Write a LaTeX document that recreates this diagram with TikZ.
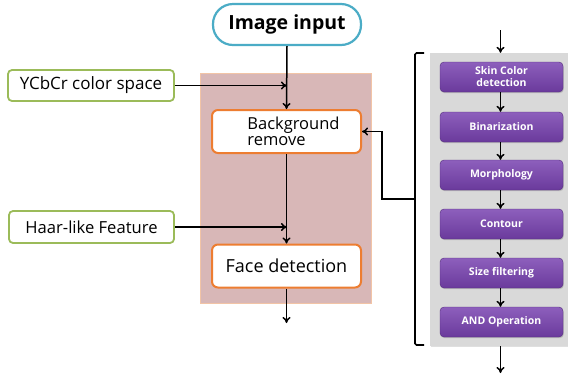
\documentclass[tikz,border=0pt]{standalone}
\usepackage{fontspec}
\setmainfont{Open Sans}
\usetikzlibrary{arrows.meta,shadows}
\definecolor{cyanb}{HTML}{4BACC6}
\definecolor{greenb}{HTML}{9BBB59}
\definecolor{orangeb}{HTML}{ED7D31}
\definecolor{pinkfill}{HTML}{D8B7B7}
\definecolor{pinkdraw}{HTML}{F2C4A6}
\definecolor{panelgray}{HTML}{D9D9D9}
\definecolor{purtop}{HTML}{8D5FBC}
\definecolor{purbot}{HTML}{6A3A9C}
\tikzset{
  conn/.style={line width=1.5pt, draw=black},
  inbox/.style={draw=greenb, line width=1.8pt, rounded corners=4pt, fill=white, inner sep=0pt},
  procbox/.style={draw=orangeb, line width=2pt, rounded corners=6pt, fill=white, minimum width=149pt, minimum height=43pt, inner sep=0pt},
  purbox/.style={rounded corners=4pt, top color=purtop, bottom color=purbot, draw=purbot!80!black, line width=0.4pt,
    minimum width=123pt, minimum height=30pt, inner sep=0pt, text=white, align=center,
    font=\fontsize{10.5}{12}\selectfont\bfseries, drop shadow={shadow xshift=0.8pt, shadow yshift=-1.2pt, opacity=0.35}}
}
\begin{document}
\begin{tikzpicture}[x=1pt,y=-1pt, >={To[length=6pt,width=8pt]}]
\useasboundingbox (0,0) rectangle (568,376);
% left part
\node[draw=pinkdraw, fill=pinkfill, line width=0.8pt, minimum width=171pt, minimum height=230pt, inner sep=0pt] (region) at (285.5,188) {};
\node[draw=cyanb, line width=2.2pt, rounded corners=20pt, fill=white, minimum width=148pt, minimum height=41pt, inner sep=0pt,
  font=\fontsize{19.5}{19.5}\selectfont\bfseries] (img) at (287,24.5) {Image input};
\node[procbox, align=left, font=\fontsize{16.5}{16}\selectfont] (bg) at (286.5,131.5) {\hspace*{14pt}Background\\\hspace*{14pt}remove};
\node[procbox, font=\fontsize{18}{18}\selectfont] (fd) at (286.5,266) {Face detection};
\node[inbox, minimum width=166pt, minimum height=31pt, font=\fontsize{17}{17}\selectfont] (ycc) at (91,85.5) {YCbCr color space};
\node[inbox, minimum width=165pt, minimum height=32pt, font=\fontsize{16.6}{17}\selectfont] (haar) at (91.5,227) {Haar-like Feature};
\coordinate (out1) at (286.5,323);
\draw[conn,->] (img.south) -- (bg.north);
\draw[conn,->] (bg.south) -- (fd.north);
\draw[conn,->] (fd.south) -- (out1);
\draw[conn,->] (ycc.east) -- (ycc.east -| img.south);
\draw[conn,->] (haar.east) -- (haar.east -| img.south);
% right part
\node[fill=panelgray, minimum width=138pt, minimum height=293pt, inner sep=0pt,
  drop shadow={shadow xshift=0.8pt, shadow yshift=-1pt, opacity=0.25}] (panel) at (499,199.5) {};
\node[purbox] (s1) at (501.5,77) {Skin Color\\detection};
\node[purbox] (s2) at (501.5,127) {Binarization};
\node[purbox] (s3) at (501.5,175) {Morphology};
\node[purbox] (s4) at (501.5,224) {Contour};
\node[purbox] (s5) at (501.5,273) {Size filtering};
\node[purbox] (s6) at (501.5,322) {AND Operation};
\coordinate (pin) at (500.5,30);
\coordinate (pout) at (500.5,373);
\draw[conn,->] (pin) -- (pin |- panel.north);
\draw[conn,->] (pout |- panel.south) -- (pout);
\foreach \a/\b in {s1/s2,s2/s3,s3/s4,s4/s5,s5/s6}
  \draw[conn,->] ([xshift=-1pt]\a.south) -- ([xshift=-1pt]\b.north);
% bracket
\coordinate (bt) at (424,53);
\coordinate (bb) at (424,345);
\coordinate (bm) at (415,199);
\draw[line width=1.6pt, rounded corners=1.5pt] (bt) -- (415,53) -- (415,345) -- (bb);
\draw[conn,->] (bm) -- (382,199) |- (bg.east);
\end{tikzpicture}
\end{document}
